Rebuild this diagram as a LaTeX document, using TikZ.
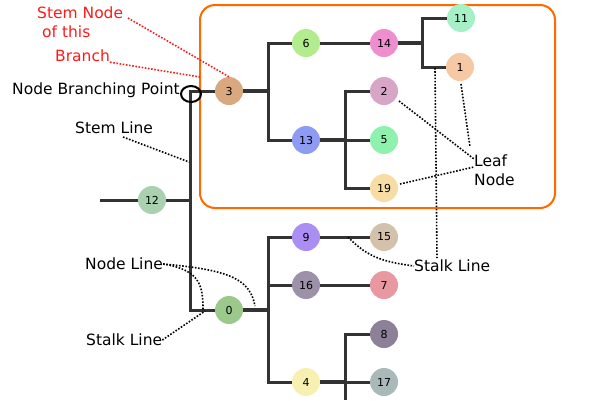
\documentclass[tikz,border=0pt]{standalone}
\usepackage{fontspec}
\setmainfont{DejaVu Sans}
\usepackage{tikz}
\usetikzlibrary{shapes.geometric}
\definecolor{linegray}{HTML}{333333}
\definecolor{boxorange}{HTML}{FF6A00}
\definecolor{notered}{HTML}{FF1A1A}
\definecolor{c0}{HTML}{9AC98B}
\definecolor{c1}{HTML}{F6C8A4}
\definecolor{c2}{HTML}{D7A6C6}
\definecolor{c3}{HTML}{D9A87E}
\definecolor{c4}{HTML}{F6F1B1}
\definecolor{c5}{HTML}{8EF2AE}
\definecolor{c6}{HTML}{B3EC8E}
\definecolor{c7}{HTML}{E898A0}
\definecolor{c8}{HTML}{8C8199}
\definecolor{c9}{HTML}{AB8EF3}
\definecolor{c11}{HTML}{A6F0C8}
\definecolor{c12}{HTML}{A9D1B0}
\definecolor{c13}{HTML}{8E9BF2}
\definecolor{c14}{HTML}{EE8ECF}
\definecolor{c15}{HTML}{D3C1AC}
\definecolor{c16}{HTML}{9D91A9}
\definecolor{c17}{HTML}{A9B8B9}
\definecolor{c19}{HTML}{F7DCA3}
\tikzset{
    treenode/.style={circle, fill=#1, minimum size=28pt, inner sep=0pt,
        font=\fontsize{11}{13}\selectfont},
    branchline/.style={draw=linegray, line width=3pt},
    stubline/.style={draw=linegray, line width=4pt},
    hint/.style={draw=black, line width=1.6pt, dash pattern=on 1.6pt off 1.6pt},
    redhint/.style={draw=notered, line width=1.6pt, dash pattern=on 1.6pt off 1.6pt},
    lbl/.style={inner sep=0pt, font=\fontsize{15.5}{19}\selectfont, align=left}
}

\begin{document}
\begin{tikzpicture}[x=1pt, y=-1pt]
\useasboundingbox (0,0) rectangle (600,400);
\draw[draw=boxorange, line width=2pt, rounded corners=15pt] (200,5) rectangle (555,208);

\node[treenode=c12] (n12) at (152,200) {12};
\node[treenode=c3]  (n3)  at (229,91)  {3};
\node[treenode=c6]  (n6)  at (306,43)  {6};
\node[treenode=c13] (n13) at (306,140) {13};
\node[treenode=c14] (n14) at (384,43)  {14};
\node[treenode=c11] (n11) at (461,18)  {11};
\node[treenode=c1]  (n1)  at (460,67)  {1};
\node[treenode=c2]  (n2)  at (384,91)  {2};
\node[treenode=c5]  (n5)  at (384,140) {5};
\node[treenode=c19] (n19) at (384,188) {19};
\node[treenode=c0]  (n0)  at (229,310) {0};
\node[treenode=c9]  (n9)  at (306,237) {9};
\node[treenode=c16] (n16) at (306,285) {16};
\node[treenode=c4]  (n4)  at (306,382) {4};
\node[treenode=c15] (n15) at (384,237) {15};
\node[treenode=c7]  (n7)  at (384,285) {7};
\node[treenode=c8]  (n8)  at (384,334) {8};
\node[treenode=c17] (n17) at (384,382) {17};

\coordinate (e12)   at (100,200);
\coordinate (s12)   at (190,200);
\coordinate (stemT) at (190,91);
\coordinate (stemB) at (190,310);
\coordinate (b3)    at (268,91);
\coordinate (b14)   at (422,43);
\coordinate (b13)   at (345,140);
\coordinate (b0)    at (268,310);
\coordinate (b4)    at (345,382);
\coordinate (end4)  at (345,400);

\draw[style={branchline}] (e12) -- (n12);
\draw[style={branchline}] (n12) -- (s12);
\draw[style={branchline}] (n3) -- (stemT) -- (stemB) -- (n0);
\draw[style={stubline}] (n3) -- (b3);
\draw[style={branchline}] (n6) -| (b3) |- (n13);
\draw[style={branchline}] (n6) -- (n14);
\draw[style={stubline}] (n14) -- (b14);
\draw[style={branchline}] (n11) -| (b14) |- (n1);
\draw[style={stubline}] (n13) -- (b13);
\draw[style={branchline}] (n2) -| (b13) |- (n19);
\draw[style={branchline}] (b13) -- (n5);
\draw[style={stubline}] (n0) -- (b0);
\draw[style={branchline}] (n9) -| (b0) |- (n4);
\draw[style={branchline}] (n16 -| b0) -- (n16);
\draw[style={branchline}] (n9) -- (n15);
\draw[style={branchline}] (n16) -- (n7);
\draw[style={stubline}] (n4) -- (b4);
\draw[style={branchline}] (n8) -| (b4) -- (end4);
\draw[style={branchline}] (b4) -- (n17);

\node[draw=black, line width=2pt, ellipse, minimum width=20pt, minimum height=16pt,
    inner sep=0pt] (bpoint) at (191,94) {};

\node[lbl, text=notered, anchor=north west] (stemnode) at (37,6.9)
    {Stem Node\\\hspace*{5pt}of this};
\node[lbl, text=notered, anchor=west] (branch) at (55,56) {Branch};
\node[lbl, anchor=west] (branchpt) at (12,90) {Node Branching Point};
\node[lbl, anchor=west] (stemline) at (75,128) {Stem Line};
\node[lbl, anchor=north west] (leafnode) at (474,154.8) {Leaf\\Node};
\node[lbl, anchor=west] (stalkR) at (414,266) {Stalk Line};
\node[lbl, anchor=west] (nodeline) at (85,264) {Node Line};
\node[lbl, anchor=west] (stalkL) at (86,340) {Stalk Line};

\coordinate (boxhit)  at (200,77);
\coordinate (stemhit) at (189,162);
\coordinate (leafA)   at (474,159);
\coordinate (leafB)   at (470,147);
\coordinate (leafC)   at (474,167);
\coordinate (stalkT)  at (435,68);
\coordinate (stalkE)  at (437,258);
\coordinate (edgehit) at (348,237);
\coordinate (nlA)     at (203,310);
\coordinate (nlB)     at (255,306);
\coordinate (slhit)   at (205,311);

\draw[style={redhint}] (128,18) -- (n3.north);
\draw[style={redhint}] (branch.south east) -- (boxhit);
\draw[style={hint}] (123,137) -- (stemhit);
\draw[style={hint}] (399,101) -- (leafA);
\draw[style={hint}] (461,84) -- (leafB);
\draw[style={hint}] (400,184) -- (leafC);
\draw[style={hint}] (stalkT) -- (stalkE);
\draw[style={hint}] (edgehit) .. controls (368,258) and (385,262) .. (stalkR.west);
\draw[style={hint}] (nodeline.east) .. controls (200,270) and (203,285) .. (nlA);
\draw[style={hint}] (nodeline.east) .. controls (232,270) and (250,280) .. (nlB);
\draw[style={hint}] (stalkL.east) -- (slhit);
\end{tikzpicture}
\end{document}
